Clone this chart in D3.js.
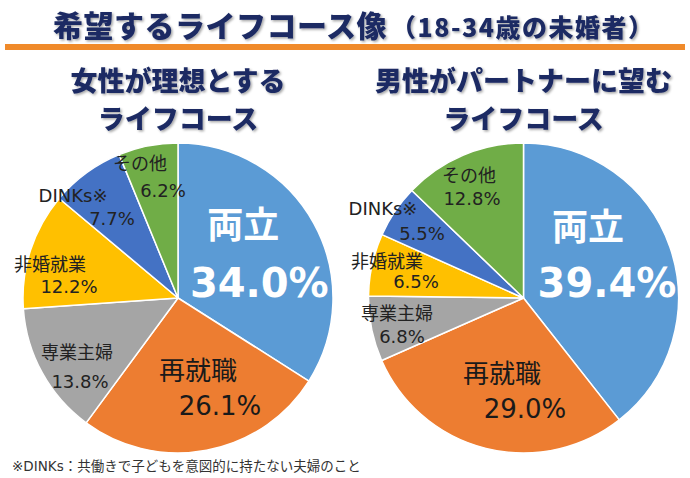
<!DOCTYPE html>
<html><head><meta charset="utf-8">
<script src="https://cdn.jsdelivr.net/npm/d3@7/dist/d3.min.js"></script>
<style>
html,body{margin:0;padding:0;background:#fff;}
svg{display:block;}
</style></head>
<body>
<script>
// ---- data ----
const categories = ["両立", "再就職", "専業主婦", "非婚就業", "DINKs※", "その他"];
const womenValues = [34.0, 26.1, 13.8, 12.2, 7.7, 6.2];
const menValues = [39.4, 29.0, 6.8, 6.5, 5.5, 12.8];
const sliceColors = ["#5b9bd5", "#ed7d31", "#a5a5a5", "#ffc000", "#4472c4", "#70ad47"];
const mainTitle = "希望するライフコース像";
const titleSuffix = "（18-34歳の未婚者）";
const womenTitle = ["女性が理想とする", "ライフコース"];
const menTitle = ["男性がパートナーに望む", "ライフコース"];
const footnote = "※DINKs：共働きで子どもを意図的に持たない夫婦のこと";

// ---- layout (label nudges relative to the arc centroid at 0.65r) ----
const womenNudges = [[-23,-11.5,-7,47.5],[1.4,-17,23.4,18],[-12.7,12.5,-9.7,41.5],[-32.2,4,-13.2,26],[-45.5,-14.7,-6.5,8.3],[-18.5,-29,4.5,-2]];
const menNudges = [[-30.7,-25.1,-11.7,31.9],[2.9,-12.7,25.9,22.3],[-27.8,1.9,-22.8,24.9],[-38.1,-8.3,-9.1,11.7],[-57,-26.6,-18,-1.6],[-15.1,-23.3,-12.1,-0.3]];

const W = 690, H = 478;
const svg = d3.select("body").append("svg").attr("width", W).attr("height", H);
const defs = svg.append("defs");
const f = defs.append("filter").attr("id","sh").attr("x","-10%").attr("y","-10%").attr("width","120%").attr("height","130%");
f.append("feDropShadow").attr("dx",1.5).attr("dy",1.5).attr("stdDeviation",1).attr("flood-color","#000").attr("flood-opacity",0.35);

const navy = "#1b2a63";
const jpBold = "'Noto Sans CJK JP', sans-serif";

// Title
const t = svg.append("text").attr("x", 53).attr("y", 37)
  .attr("font-family", jpBold).attr("font-weight", 900).attr("fill", navy)
  .attr("filter","url(#sh)");
t.append("tspan").attr("font-size", 30).attr("letter-spacing", 0.5).text(mainTitle);
t.append("tspan").attr("font-size", 25).attr("dx", 4).attr("letter-spacing", 1.5).text(titleSuffix);

svg.append("rect").attr("x", 5).attr("y", 44).attr("width", 680).attr("height", 6).attr("fill", "#f08a2a");

const pie = d3.pie().sort(null).value(d => d);
const labelFont = "'DejaVu Sans', 'Noto Sans CJK JP', sans-serif";

function drawPie(cx, cy, r, values, titleLines, nudges) {
  const g = svg.append("g");
  titleLines.forEach((s, i) => {
    g.append("text").attr("x", cx).attr("y", 91 + i * 38)
      .attr("text-anchor", "middle").attr("font-family", jpBold).attr("font-weight", 900)
      .attr("font-size", 27).attr("fill", navy).attr("filter","url(#sh)").text(s);
  });
  const arcs = pie(values);
  const arc = d3.arc().innerRadius(0).outerRadius(r);
  const lab = d3.arc().innerRadius(r * 0.65).outerRadius(r * 0.65);
  const pg = g.append("g").attr("transform", `translate(${cx},${cy})`);
  pg.selectAll("path").data(arcs).join("path")
    .attr("d", arc).attr("fill", (d, i) => sliceColors[i])
    .attr("stroke", "#fff").attr("stroke-width", 1.5).attr("stroke-linejoin","round");
  arcs.forEach((d, i) => {
    const [ax, ay] = lab.centroid(d);
    const n = nudges[i];
    let s1, s2, w1, w2, col;
    if (i === 0) { s1 = 36; s2 = 40; w1 = 700; w2 = 700; col = "#fff"; }
    else if (i === 1) { s1 = 26; s2 = 26; w1 = 400; w2 = 400; col = "#1a1a1a"; }
    else { s1 = 18; s2 = 18; w1 = 400; w2 = 400; col = "#222"; }
    pg.append("text").attr("x", ax + n[0]).attr("y", ay + n[1]).attr("text-anchor", "middle")
      .attr("font-family", i === 0 ? jpBold : labelFont).attr("font-weight", w1)
      .attr("font-size", s1).attr("fill", col).text(categories[i]);
    pg.append("text").attr("x", ax + n[2]).attr("y", ay + n[3]).attr("text-anchor", "middle")
      .attr("font-family", labelFont).attr("font-weight", w2)
      .attr("font-size", s2).attr("fill", col).text(d3.format(".1f")(d.data) + "%");
  });
}

drawPie(178, 298, 155, womenValues, womenTitle, womenNudges);
drawPie(523.5, 298, 155, menValues, menTitle, menNudges);

svg.append("text").attr("x", 12).attr("y", 471).attr("font-family", labelFont)
  .attr("font-size", 13.5).attr("fill", "#333").text(footnote);
</script>
</body></html>
